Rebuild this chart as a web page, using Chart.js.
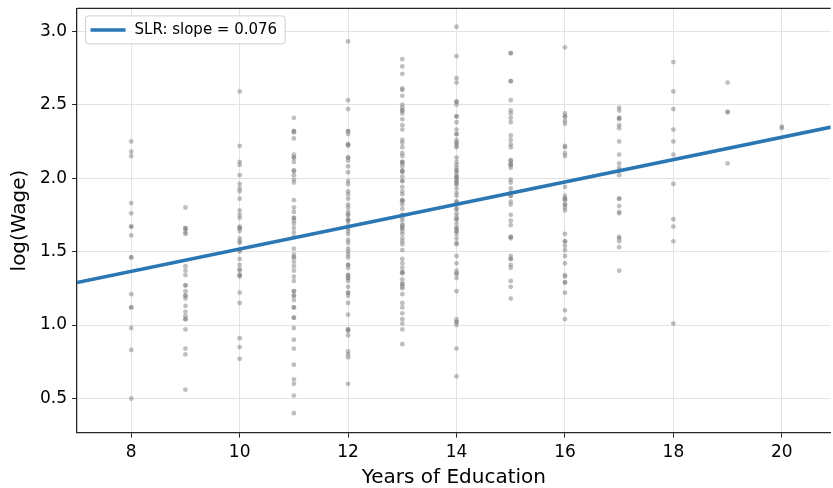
<!DOCTYPE html>
<html>
<head>
<meta charset="utf-8">
<script src="https://cdn.jsdelivr.net/npm/chart.js@4.4.1/dist/chart.umd.min.js"></script>
<style>
  body { margin: 0; background: #fff; }
  #wrap { width: 833px; height: 488px; }
</style>
</head>
<body>
<div id="wrap"><canvas id="slrChart"></canvas></div>
<script>
// years of education levels and the log(wage) values seen at each level
var educYears = [8, 9, 10, 11, 12, 13, 14, 15, 16, 17, 18, 19, 20];

var lw8  = [2.25, 2.18, 2.15, 1.83, 1.76, 1.67, 1.67, 1.61, 1.46, 1.46, 1.21, 1.12, 1.12, 0.98, 0.83, 0.50];
var lw9  = [1.80, 1.66, 1.66, 1.65, 1.63, 1.62, 1.40, 1.37, 1.34, 1.27, 1.27, 1.23, 1.20, 1.20, 1.18, 1.13,
            1.09, 1.06, 1.04, 1.04, 0.97, 0.84, 0.80, 0.56];
var lw10 = [2.59, 2.22, 2.11, 2.09, 2.02, 1.96, 1.93, 1.91, 1.86, 1.78, 1.75, 1.73, 1.67, 1.66, 1.66, 1.64,
            1.59, 1.57, 1.56, 1.51, 1.50, 1.45, 1.41, 1.38, 1.37, 1.34, 1.34, 1.33, 1.22, 1.15, 0.91, 0.85, 0.77];
var lw11 = [2.41, 2.32, 2.32, 2.31, 2.27, 2.16, 2.14, 2.14, 2.11, 2.05, 2.05, 2.02, 1.99, 1.97, 1.85, 1.80,
            1.77, 1.73, 1.73, 1.71, 1.69, 1.66, 1.63, 1.60, 1.52, 1.48, 1.46, 1.46, 1.43, 1.40, 1.37, 1.33,
            1.30, 1.23, 1.23, 1.20, 1.20, 1.17, 1.12, 1.12, 1.05, 1.05, 0.98, 0.90, 0.84, 0.73, 0.63, 0.60, 0.52, 0.40];
var lw12 = [2.93, 2.53, 2.47, 2.32, 2.32, 2.30, 2.23, 2.23, 2.22, 2.14, 2.14, 2.12, 2.08, 2.04, 1.98, 1.96,
            1.91, 1.89, 1.86, 1.82, 1.80, 1.77, 1.75, 1.75, 1.72, 1.71, 1.71, 1.68, 1.66, 1.64, 1.62, 1.58,
            1.56, 1.52, 1.50, 1.48, 1.46, 1.41, 1.41, 1.39, 1.34, 1.34, 1.32, 1.32, 1.30, 1.26, 1.22, 1.22,
            1.20, 1.15, 1.07, 0.97, 0.97, 0.96, 0.93, 0.82, 0.80, 0.78, 0.60];
var lw13 = [2.81, 2.76, 2.71, 2.61, 2.60, 2.56, 2.50, 2.48, 2.46, 2.46, 2.44, 2.40, 2.36, 2.33, 2.26, 2.24,
            2.21, 2.17, 2.15, 2.11, 2.11, 2.10, 2.08, 2.05, 2.05, 2.04, 2.01, 1.98, 1.98, 1.94, 1.91, 1.89,
            1.85, 1.85, 1.84, 1.82, 1.79, 1.75, 1.75, 1.73, 1.71, 1.68, 1.68, 1.66, 1.66, 1.64, 1.62, 1.59,
            1.57, 1.55, 1.51, 1.45, 1.42, 1.39, 1.36, 1.36, 1.35, 1.31, 1.28, 1.28, 1.26, 1.25, 1.21, 1.15,
            1.12, 1.08, 1.04, 1.01, 0.97, 0.87];
var lw14 = [3.03, 2.83, 2.68, 2.65, 2.52, 2.52, 2.50, 2.42, 2.42, 2.38, 2.33, 2.30, 2.30, 2.26, 2.24, 2.24,
            2.22, 2.21, 2.14, 2.11, 2.09, 2.07, 2.05, 2.05, 2.03, 2.01, 2.01, 2.00, 1.98, 1.98, 1.96, 1.96,
            1.93, 1.90, 1.88, 1.84, 1.84, 1.82, 1.79, 1.79, 1.76, 1.74, 1.72, 1.72, 1.69, 1.66, 1.66, 1.64,
            1.64, 1.62, 1.59, 1.56, 1.55, 1.47, 1.42, 1.37, 1.35, 1.35, 1.32, 1.23, 1.04, 1.02, 1.02, 1.00,
            0.84, 0.65];
var lw15 = [2.85, 2.85, 2.66, 2.66, 2.53, 2.46, 2.44, 2.41, 2.38, 2.29, 2.26, 2.23, 2.21, 2.12, 2.12, 2.10,
            2.09, 2.09, 2.07, 1.99, 1.97, 1.93, 1.90, 1.90, 1.88, 1.88, 1.84, 1.82, 1.75, 1.71, 1.68, 1.60,
            1.60, 1.59, 1.47, 1.45, 1.45, 1.41, 1.39, 1.30, 1.26, 1.18];
var lw16 = [2.89, 2.44, 2.42, 2.42, 2.39, 2.37, 2.22, 2.21, 2.17, 2.15, 1.94, 1.88, 1.86, 1.86, 1.85, 1.82,
            1.82, 1.80, 1.78, 1.62, 1.57, 1.57, 1.54, 1.51, 1.47, 1.42, 1.34, 1.33, 1.29, 1.29, 1.22, 1.10, 1.04];
var lw17 = [2.48, 2.46, 2.41, 2.41, 2.40, 2.36, 2.34, 2.25, 2.16, 2.10, 2.07, 2.05, 2.02, 1.86, 1.86, 1.81,
            1.77, 1.76, 1.60, 1.59, 1.57, 1.53, 1.37];
var lw18 = [2.79, 2.59, 2.47, 2.33, 2.25, 2.16, 1.96, 1.72, 1.67, 1.57, 1.01];
var lw19 = [2.65, 2.45, 2.45, 2.10];
var lw20 = [2.35, 2.34];

var wageCols = [lw8, lw9, lw10, lw11, lw12, lw13, lw14, lw15, lw16, lw17, lw18, lw19, lw20];

// simple linear regression
var slrSlope = 0.076;
var slrIntercept = 0.758;
var lineEnds = [7, 21];

var xTicks = [8, 10, 12, 14, 16, 18, 20];
var yTicks = [0.5, 1.0, 1.5, 2.0, 2.5, 3.0];

var points = [];
educYears.forEach(function (yr, i) {
    wageCols[i].forEach(function (v) {
        points.push({ x: yr, y: v });
    });
});

var linePts = lineEnds.map(function (x) {
    return { x: x, y: slrIntercept + slrSlope * x };
});

var FONT = "'DejaVu Sans', sans-serif";

// legend box drawn inside the plot (matplotlib style) + top spine
var insideLegend = {
    id: 'insideLegend',
    afterDraw: function (chart) {
        var ctx = chart.ctx;
        var area = chart.chartArea;

        ctx.save();
        ctx.strokeStyle = '#262626';
        ctx.lineWidth = 1.3;
        ctx.beginPath();
        ctx.moveTo(area.left, area.top);
        ctx.lineTo(area.right, area.top);
        ctx.stroke();

        var ds = chart.data.datasets[0];
        ctx.font = '15px ' + FONT;
        var tw = ctx.measureText(ds.label).width;
        var bx = area.left + 8.5, by = area.top + 7.5;
        var bw = 57 + tw, bh = 28;

        ctx.beginPath();
        ctx.roundRect(bx, by, bw, bh, 3);
        ctx.fillStyle = 'rgba(255,255,255,0.85)';
        ctx.fill();
        ctx.strokeStyle = '#d0d0d0';
        ctx.lineWidth = 1;
        ctx.stroke();

        ctx.strokeStyle = ds.borderColor;
        ctx.lineWidth = ds.borderWidth;
        ctx.beginPath();
        ctx.moveTo(bx + 5, by + bh / 2);
        ctx.lineTo(bx + 40, by + bh / 2);
        ctx.stroke();

        ctx.fillStyle = '#000';
        ctx.textBaseline = 'middle';
        ctx.fillText(ds.label, bx + 49, by + bh / 2 + 0.5);
        ctx.restore();
    }
};

var ctxScatter = document.getElementById('slrChart').getContext('2d');
var slrChart = new Chart(ctxScatter, {
    type: 'scatter',
    data: {
        datasets: [{
            type: 'line',
            label: 'SLR: slope = ' + slrSlope.toFixed(3),
            data: linePts,
            borderColor: '#2a77b4',
            borderWidth: 3.5,
            pointRadius: 0,
            fill: false,
            order: 0
        }, {
            label: 'data',
            data: points,
            backgroundColor: 'rgba(128,128,128,0.5)',
            borderWidth: 0,
            pointRadius: 2.4,
            pointHoverRadius: 2.4,
            order: 1
        }]
    },
    plugins: [insideLegend],
    options: {
        responsive: true,
        maintainAspectRatio: false,
        animation: false,
        layout: { padding: { left: 8, right: 0, top: 7, bottom: 0 } },
        plugins: {
            legend: { display: false },
            tooltip: { enabled: false }
        },
        scales: {
            x: {
                type: 'linear',
                min: 7,
                max: 20.9,
                afterBuildTicks: function (axis) {
                    axis.ticks = xTicks.map(function (v) { return { value: v }; });
                },
                grid: { color: '#e3e3e3', tickColor: '#262626', tickLength: 5, lineWidth: 1 },
                border: { color: '#262626', width: 1.3 },
                ticks: { color: '#000', font: { family: FONT, size: 17 }, padding: 5, maxRotation: 0 },
                title: { display: true, text: 'Years of Education', color: '#000',
                         font: { family: FONT, size: 20, lineHeight: 1.0 }, padding: { top: 0, bottom: 0 } }
            },
            y: {
                type: 'linear',
                min: 0.268,
                max: 3.155,
                afterBuildTicks: function (axis) {
                    axis.ticks = yTicks.map(function (v) { return { value: v }; });
                },
                grid: { color: '#e3e3e3', tickColor: '#262626', tickLength: 5, lineWidth: 1 },
                border: { color: '#262626', width: 1.3 },
                ticks: {
                    color: '#000', font: { family: FONT, size: 17, lineHeight: 0.4 }, padding: 5,
                    callback: function (v) { return v.toFixed(1); }
                },
                title: { display: true, text: 'log(Wage)', color: '#000',
                         font: { family: FONT, size: 20 }, padding: { top: 0, bottom: 3 } }
            }
        }
    }
});
</script>
</body>
</html>
